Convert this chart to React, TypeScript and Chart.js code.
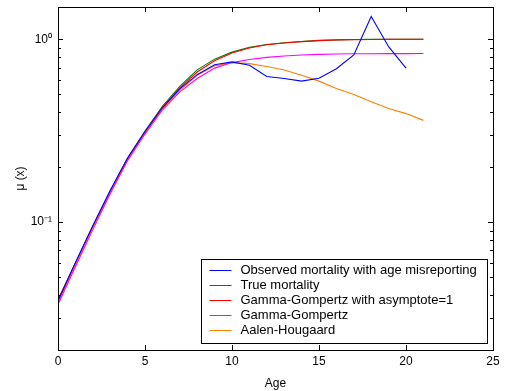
import React, { useEffect, useRef } from 'react';
import { Chart, registerables } from 'chart.js';

Chart.register(...registerables);

// ---- Data ----
const ages = [0, 1, 2, 3, 4, 5, 6, 7, 8, 9, 10, 11, 12, 13, 14, 15, 16, 17, 18, 19, 20, 21];
const observedAges = [0, 1, 2, 3, 4, 5, 6, 7, 8, 9, 10, 11, 12, 13, 14, 15, 16, 17, 18, 19, 20];

const observed = [0.037, 0.06, 0.0955, 0.149, 0.224, 0.312, 0.422, 0.535, 0.64, 0.725, 0.752, 0.72, 0.625, 0.61, 0.59, 0.612, 0.69, 0.82, 1.33, 0.91, 0.695];
const trueMortality = [0.0375, 0.0598, 0.095, 0.148, 0.224, 0.315, 0.43, 0.552, 0.68, 0.778, 0.85, 0.904, 0.935, 0.956, 0.972, 0.985, 0.992, 0.996, 0.998, 0.999, 1.0, 1.0];
const gammaGompertzAsym = [0.0378, 0.0595, 0.0945, 0.147, 0.222, 0.312, 0.424, 0.542, 0.662, 0.762, 0.84, 0.895, 0.932, 0.954, 0.97, 0.982, 0.99, 0.995, 0.997, 0.999, 0.9995, 1.0];
const gammaGompertz = [0.0355, 0.057, 0.091, 0.143, 0.217, 0.303, 0.41, 0.515, 0.61, 0.695, 0.745, 0.775, 0.796, 0.81, 0.82, 0.826, 0.83, 0.832, 0.833, 0.834, 0.834, 0.835];
const aalenHougaard = [0.0365, 0.0585, 0.093, 0.145, 0.22, 0.308, 0.418, 0.525, 0.635, 0.715, 0.745, 0.735, 0.71, 0.678, 0.636, 0.59, 0.538, 0.499, 0.455, 0.418, 0.392, 0.36];

const seriesLabels = [
  'Observed mortality with age misreporting',
  'True mortality',
  'Gamma-Gompertz with asymptote=1',
  'Gamma-Gompertz',
  'Aalen-Hougaard',
];
const seriesColors = ['#0000ff', '#008000', '#ff0000', '#ff00ff', '#ff8000'];

const xTickValues = [0, 5, 10, 15, 20, 25];
const yTickValues = [0.02, 0.03, 0.04, 0.05, 0.06, 0.07, 0.08, 0.09, 0.1, 0.2, 0.3, 0.4, 0.5, 0.6, 0.7, 0.8, 0.9, 1];
const yMajorLabels: Record<string, string> = { '0.1': '10\u207B\u00B9', '1': '10\u2070' };

const FONT_FAMILY = '"Liberation Sans", Arial, Helvetica, sans-serif';

const toPoints = (xs: number[], ys: number[]) => xs.map((x, i) => ({ x, y: ys[i] }));

const boxTicksPlugin = {
  id: 'boxTicks',
  afterDraw(chart: any) {
    const { ctx, chartArea } = chart;
    const { left, right, top, bottom } = chartArea;
    const xs = chart.scales.x;
    const ys = chart.scales.y;
    ctx.save();
    ctx.strokeStyle = '#000';
    ctx.lineWidth = 1;
    ctx.beginPath();
    // x ticks inward on bottom and top
    xTickValues.forEach((v) => {
      const px = Math.round(xs.getPixelForValue(v)) + 0.5;
      ctx.moveTo(px, bottom);
      ctx.lineTo(px, bottom - 5);
      ctx.moveTo(px, top);
      ctx.lineTo(px, top + 5);
    });
    // y ticks inward on left and right
    yTickValues.forEach((v) => {
      const py = Math.round(ys.getPixelForValue(v)) + 0.5;
      const len = yMajorLabels[String(v)] ? 5 : 3;
      ctx.moveTo(left, py);
      ctx.lineTo(left + len, py);
      ctx.moveTo(right, py);
      ctx.lineTo(right - len, py);
    });
    ctx.stroke();
    ctx.strokeRect(Math.round(left) + 0.5, Math.round(top) + 0.5, Math.round(right - left), Math.round(bottom - top));

    // legend box
    ctx.font = `13px ${FONT_FAMILY}`;
    const datasets = chart.data.datasets;
    let maxW = 0;
    datasets.forEach((d: any) => {
      maxW = Math.max(maxW, ctx.measureText(d.label).width);
    });
    const rowH = 15.2;
    const boxW = 8 + 22 + 9 + maxW + 11;
    const boxH = 10 + rowH * (datasets.length - 1) + 13;
    const bx = Math.round(right - 6 - boxW) + 0.5;
    const by = Math.round(bottom - 7 - boxH) + 0.5;
    ctx.fillStyle = '#fff';
    ctx.fillRect(bx, by, boxW, boxH);
    ctx.strokeStyle = '#000';
    ctx.strokeRect(bx, by, Math.round(boxW), Math.round(boxH));
    datasets.forEach((d: any, i: number) => {
      const cy = by + 10 + rowH * i;
      ctx.strokeStyle = d.borderColor;
      ctx.lineWidth = 1;
      ctx.beginPath();
      ctx.moveTo(bx + 8, Math.round(cy) + 0.5);
      ctx.lineTo(bx + 30, Math.round(cy) + 0.5);
      ctx.stroke();
      ctx.fillStyle = '#000';
      ctx.textBaseline = 'middle';
      ctx.textAlign = 'left';
      ctx.fillText(d.label, bx + 39, cy + 0.5);
    });
    ctx.restore();
  },
};

export default function App() {
  const canvasRef = useRef<HTMLCanvasElement | null>(null);

  useEffect(() => {
    if (!canvasRef.current) return;
    const font = { family: FONT_FAMILY, size: 12 };
    const seriesData = [
      toPoints(observedAges, observed),
      toPoints(ages, trueMortality),
      toPoints(ages, gammaGompertzAsym),
      toPoints(ages, gammaGompertz),
      toPoints(ages, aalenHougaard),
    ];
    const drawOrder = [0, 4, 3, 1, 2];
    const chart = new Chart(canvasRef.current, {
      type: 'line',
      data: {
        datasets: seriesData.map((d, i) => ({
          label: seriesLabels[i],
          data: d,
          borderColor: seriesColors[i],
          backgroundColor: seriesColors[i],
          borderWidth: 1.1,
          pointRadius: 0,
          tension: 0,
          fill: false,
          order: drawOrder[i],
        })),
      },
      options: {
        responsive: false,
        animation: false,
        events: [],
        layout: { padding: { top: 7, right: 13, left: 0, bottom: 0 } },
        plugins: {
          legend: { display: false },
          tooltip: { enabled: false },
        },
        scales: {
          x: {
            type: 'linear',
            min: 0,
            max: 25,
            afterBuildTicks: (s: any) => {
              s.ticks = xTickValues.map((v) => ({ value: v }));
            },
            ticks: { color: '#000', font, padding: 4, maxRotation: 0, autoSkip: false },
            grid: { display: false, drawTicks: false },
            border: { display: false },
            title: { display: true, text: 'Age', color: '#000', font, padding: { top: 6, bottom: 0 } },
            afterFit: (s: any) => {
              s.height = 41;
              s.paddingLeft = 0;
              s.paddingRight = 0;
            },
          },
          y: {
            type: 'logarithmic',
            min: 0.02,
            max: 1.5,
            afterBuildTicks: (s: any) => {
              s.ticks = yTickValues.map((v) => ({ value: v }));
            },
            ticks: {
              color: '#000',
              font,
              padding: 6,
              autoSkip: false,
              callback: (v: any) => yMajorLabels[String(v)] || '',
            },
            grid: { display: false, drawTicks: false },
            border: { display: false },
            title: { display: true, text: '\u03BC (x)', color: '#000', font, padding: { top: 13, bottom: 0 } },
            afterFit: (s: any) => {
              s.width = 58;
              s.paddingTop = 0;
              s.paddingBottom = 0;
            },
          },
        },
      } as any,
      plugins: [boxTicksPlugin],
    });
    return () => chart.destroy();
  }, []);

  return (
    <div style={{ position: 'fixed', left: 0, top: 0, width: 506, height: 391, background: '#fff' }}>
      <canvas ref={canvasRef} width={506} height={391} style={{ display: 'block' }} />
    </div>
  );
}
